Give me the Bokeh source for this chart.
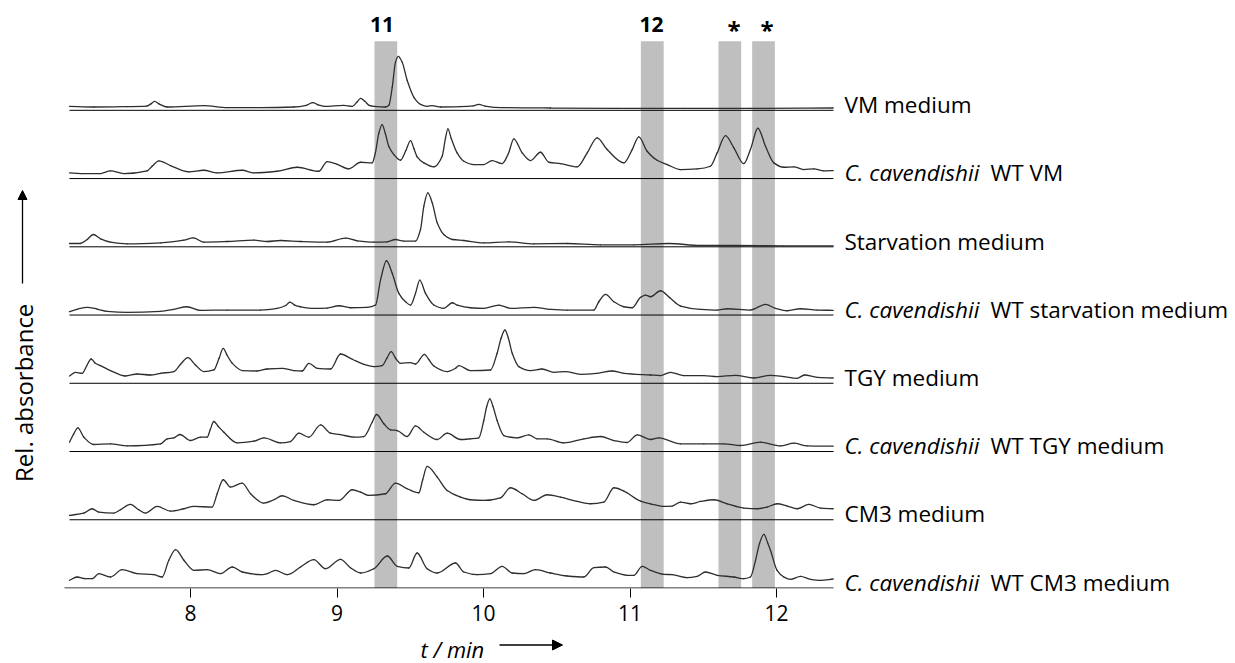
import math
from bokeh.plotting import figure
from bokeh.layouts import column, row
from bokeh.models import Range1d, FixedTicker, Arrow, NormalHead
from bokeh.embed import file_html
from bokeh.resources import INLINE
from bokeh.core.properties import value

# ---------------- data (retention time in min, relative absorbance) ----------------
t_vm = [7.174, 7.341, 7.568, 7.70, 7.730, 7.755, 7.785, 7.841, 8.091, 8.251, 8.478, 8.706, 8.79, 8.835, 8.87, 8.911,
        9.047, 9.104, 9.135, 9.161, 9.19, 9.22, 9.252, 9.331, 9.354, 9.377, 9.399, 9.418, 9.445, 9.479, 9.525, 9.570,
        9.616, 9.650, 9.707, 9.843, 9.93, 9.968, 10.01, 10.071, 10.457, 10.912, 11.367, 11.822, 12.387]
a_vm = [4.0, 3.3, 3.7, 4.2, 6.5, 9.0, 6.5, 3.3, 4.7, 2.7, 2.7, 3.3, 5.0, 7.7, 5.5, 4.0,
        5.0, 4.0, 8.0, 12.0, 9.0, 5.0, 4.0, 3.3, 5.0, 23.0, 48.0, 54.0, 48.0, 30.0, 13.0, 6.0,
        4.0, 4.7, 3.3, 3.7, 4.5, 6.0, 4.2, 3.0, 2.3, 2.0, 2.0, 2.0, 2.3]

t_wt_vm = [7.174, 7.249, 7.386, 7.454, 7.545, 7.704, 7.738, 7.784, 7.863, 7.988, 8.091, 8.182, 8.353, 8.432, 8.592,
           8.728, 8.876, 8.933, 9.001, 9.081, 9.161, 9.240, 9.262, 9.285, 9.308, 9.33, 9.354, 9.388, 9.433, 9.47,
           9.502, 9.525, 9.547, 9.593, 9.661, 9.718, 9.74, 9.757, 9.78, 9.820, 9.866, 9.934, 10.002, 10.059, 10.127,
           10.17, 10.207, 10.264, 10.321, 10.389, 10.446, 10.526, 10.639, 10.708, 10.776, 10.844, 10.958, 11.015,
           11.060, 11.117, 11.185, 11.254, 11.345, 11.459, 11.549, 11.595, 11.652, 11.709, 11.777, 11.822, 11.873,
           11.925, 11.982, 12.050, 12.118, 12.186, 12.255, 12.323, 12.387]
a_wt_vm = [5.7, 5.0, 5.0, 7.7, 5.0, 7.7, 12.3, 17.7, 13.0, 6.7, 8.3, 5.7, 8.3, 5.7, 7.3,
           11.3, 7.3, 17.0, 14.3, 9.7, 16.3, 15.7, 25.7, 45.0, 54.0, 45.0, 32.0, 24.0, 18.3, 28.0,
           38.0, 30.0, 21.7, 15.7, 11.7, 22.3, 40.0, 49.7, 40.0, 25.7, 17.3, 14.0, 14.0, 18.0, 15.0,
           25.0, 39.7, 25.7, 18.0, 26.3, 16.3, 15.0, 11.7, 25.7, 40.7, 29.0, 15.7, 29.0,
           41.7, 27.3, 18.3, 14.0, 9.0, 9.7, 12.3, 25.7, 43.0, 30.7, 15.0, 29.0, 50.3,
           32.3, 15.7, 11.3, 11.7, 9.0, 9.7, 7.7, 8.0]

t_sm = [7.174, 7.249, 7.295, 7.336, 7.386, 7.454, 7.568, 7.796, 7.955, 8.019, 8.091, 8.251, 8.432, 8.523, 8.615,
        8.751, 8.933, 9.058, 9.138, 9.252, 9.343, 9.399, 9.456, 9.536, 9.570, 9.593, 9.620, 9.650, 9.684, 9.729,
        9.787, 9.866, 10.002, 10.173, 10.344, 10.571, 10.799, 11.026, 11.265, 11.481, 11.709, 12.050, 12.387]
a_sm = [3.3, 3.3, 7.3, 12.3, 8.0, 4.7, 3.0, 4.0, 6.7, 9.0, 4.7, 5.3, 6.7, 5.3, 6.3,
        5.3, 4.7, 8.7, 6.0, 4.7, 5.0, 7.3, 5.7, 5.7, 17.3, 40.7, 54.0, 44.0, 24.0, 12.3,
        7.3, 6.3, 4.0, 5.0, 3.0, 3.3, 2.0, 2.0, 3.3, 1.3, 1.3, 1.0, 1.0]

t_wt_sm = [7.174, 7.226, 7.295, 7.363, 7.431, 7.568, 7.796, 7.886, 7.977, 8.068, 8.251, 8.478, 8.592, 8.65, 8.678,
           8.71, 8.751, 8.842, 8.933, 9.013, 9.092, 9.206, 9.263, 9.297, 9.338, 9.377, 9.422, 9.468, 9.502, 9.536,
           9.565, 9.604, 9.661, 9.729, 9.787, 9.820, 9.911, 10.002, 10.105, 10.184, 10.344, 10.457, 10.571, 10.753,
           10.787, 10.833, 10.890, 10.958, 11.015, 11.072, 11.106, 11.140, 11.208, 11.276, 11.345, 11.481, 11.595,
           11.663, 11.822, 11.925, 11.993, 12.073, 12.164, 12.277, 12.387]
a_wt_sm = [3.3, 5.7, 7.7, 6.0, 3.7, 2.7, 3.7, 5.7, 8.3, 4.7, 5.0, 5.0, 6.7, 9.5, 13.0,
           10.0, 8.3, 6.7, 7.0, 9.3, 7.3, 7.7, 10.0, 35.0, 54.3, 41.7, 21.7, 13.3, 10.0, 21.7,
           35.0, 21.7, 10.0, 6.7, 12.3, 10.0, 7.3, 6.7, 10.0, 6.7, 7.7, 5.7, 5.0, 5.0,
           13.3, 20.7, 13.3, 8.3, 7.3, 17.7, 20.0, 18.3, 24.3, 16.7, 9.0, 5.7, 5.0,
           6.3, 5.0, 10.7, 6.7, 4.3, 6.3, 5.0, 4.7]

t_tgy = [7.174, 7.215, 7.260, 7.29, 7.322, 7.35, 7.386, 7.454, 7.556, 7.636, 7.727, 7.796, 7.886, 7.932, 7.982,
         8.034, 8.091, 8.159, 8.195, 8.223, 8.25, 8.285, 8.353, 8.455, 8.523, 8.626, 8.706, 8.762, 8.808, 8.865,
         8.956, 9.024, 9.104, 9.183, 9.252, 9.308, 9.340, 9.370, 9.40, 9.433, 9.502, 9.536, 9.597, 9.625, 9.661,
         9.752, 9.809, 9.832, 9.911, 10.048, 10.093, 10.120, 10.146, 10.170, 10.196, 10.241, 10.321, 10.400,
         10.480, 10.560, 10.662, 10.776, 10.878, 10.958, 11.140, 11.208, 11.276, 11.367, 11.504, 11.595, 11.720,
         11.845, 11.959, 12.050, 12.141, 12.191, 12.277, 12.387]
a_tgy = [7.3, 11.0, 10.0, 17.0, 24.3, 20.0, 17.7, 12.7, 7.3, 9.3, 8.3, 10.0, 11.7, 19.0, 25.7,
         18.3, 11.7, 13.3, 25.0, 35.0, 28.0, 20.0, 12.7, 12.3, 14.3, 15.0, 12.7, 12.3, 20.0, 15.0,
         14.3, 29.3, 24.0, 19.0, 16.7, 17.7, 25.0, 31.7, 25.0, 20.0, 20.7, 19.3, 29.0, 24.0, 17.3,
         11.7, 15.0, 17.7, 12.7, 13.3, 30.0, 45.0, 53.3, 45.0, 30.0, 16.7, 12.7, 14.3,
         11.0, 11.7, 9.0, 10.0, 12.3, 10.0, 8.3, 7.7, 11.0, 7.7, 7.7, 6.7, 8.0,
         5.3, 8.0, 6.7, 5.0, 8.3, 6.0, 5.3]

t_wt_tgy = [7.174, 7.203, 7.231, 7.272, 7.340, 7.454, 7.568, 7.796, 7.841, 7.886, 7.927, 8.000, 8.068, 8.114, 8.135,
            8.159, 8.19, 8.228, 8.318, 8.432, 8.501, 8.615, 8.682, 8.740, 8.808, 8.888, 8.956, 9.024, 9.115, 9.183,
            9.240, 9.270, 9.320, 9.366, 9.411, 9.479, 9.536, 9.593, 9.684, 9.752, 9.843, 9.911, 9.968, 10.002,
            10.022, 10.043, 10.065, 10.093, 10.139, 10.230, 10.309, 10.366, 10.434, 10.548, 10.685, 10.799, 10.890,
            10.981, 11.049, 11.140, 11.197, 11.345, 11.504, 11.641, 11.754, 11.891, 12.027, 12.118, 12.209, 12.387]
a_wt_tgy = [9.3, 17.7, 23.7, 14.3, 7.0, 7.7, 5.7, 7.7, 12.7, 13.7, 17.0, 11.0, 14.3, 14.3, 22.0,
            30.0, 25.0, 19.3, 8.7, 10.3, 13.7, 8.7, 10.0, 18.3, 14.3, 26.7, 18.3, 17.0, 14.3, 15.0,
            29.3, 37.0, 27.7, 21.7, 21.0, 15.0, 25.7, 19.3, 12.0, 18.3, 12.0, 12.7, 13.7, 31.0,
            45.0, 52.7, 45.0, 31.0, 16.0, 13.7, 16.7, 12.7, 12.7, 8.7, 12.7, 15.0, 11.0,
            9.0, 16.7, 12.0, 13.7, 7.7, 7.7, 7.7, 6.0, 9.3, 5.7, 8.3, 5.7, 5.3]

t_cm3 = [7.174, 7.272, 7.329, 7.374, 7.477, 7.522, 7.590, 7.647, 7.693, 7.772, 7.863, 7.955, 8.023, 8.148, 8.182,
         8.223, 8.273, 8.353, 8.410, 8.501, 8.569, 8.626, 8.706, 8.842, 8.933, 9.013, 9.104, 9.161, 9.217, 9.331,
         9.399, 9.479, 9.559, 9.585, 9.615, 9.684, 9.752, 9.843, 9.911, 10.002, 10.116, 10.184, 10.264, 10.344,
         10.434, 10.526, 10.639, 10.730, 10.821, 10.890, 10.958, 11.072, 11.140, 11.231, 11.288, 11.345, 11.413,
         11.481, 11.572, 11.663, 11.777, 11.868, 11.936, 12.004, 12.073, 12.141, 12.221, 12.300, 12.387]
a_cm3 = [4.3, 6.7, 11.0, 7.7, 6.7, 10.0, 15.3, 10.0, 6.7, 13.3, 8.7, 11.0, 13.3, 12.7, 26.0,
         40.0, 32.7, 36.7, 26.0, 16.7, 20.0, 24.0, 19.3, 15.0, 20.0, 19.3, 30.0, 27.7, 24.3, 26.0,
         36.7, 31.0, 27.0, 40.0, 53.3, 42.7, 29.3, 22.7, 20.0, 19.3, 22.0, 32.0, 26.0, 19.3,
         25.0, 22.7, 18.3, 16.0, 17.7, 32.0, 28.7, 18.7, 16.0, 13.3, 13.7, 17.7, 16.0,
         18.3, 20.0, 16.0, 11.7, 11.0, 12.7, 16.0, 13.7, 11.0, 15.3, 11.7, 11.0]

t_wt_cm3 = [7.174, 7.226, 7.283, 7.329, 7.374, 7.454, 7.533, 7.636, 7.750, 7.807, 7.852, 7.898, 7.955, 8.023, 8.114,
            8.205, 8.285, 8.353, 8.478, 8.523, 8.580, 8.660, 8.751, 8.842, 8.922, 9.024, 9.092, 9.161, 9.252, 9.343,
            9.411, 9.490, 9.547, 9.615, 9.684, 9.809, 9.866, 9.957, 10.048, 10.127, 10.196, 10.275, 10.355, 10.457,
            10.571, 10.685, 10.753, 10.833, 10.890, 10.981, 11.026, 11.083, 11.140, 11.231, 11.288, 11.390, 11.459,
            11.515, 11.595, 11.709, 11.777, 11.822, 11.857, 11.885, 11.914, 11.940, 11.959, 12.004, 12.050, 12.096,
            12.164, 12.232, 12.300, 12.387]
a_wt_cm3 = [7.7, 11.0, 9.3, 9.3, 14.3, 11.0, 18.3, 14.3, 13.3, 11.0, 27.7, 38.3, 27.7, 17.7, 18.3,
            14.3, 21.0, 16.0, 13.3, 14.3, 17.7, 13.3, 21.0, 28.3, 19.3, 28.7, 20.3, 15.0, 19.3, 32.0,
            21.7, 20.0, 35.0, 19.3, 15.0, 25.0, 16.0, 13.3, 14.3, 21.7, 15.0, 14.3, 18.3, 15.0,
            12.0, 11.0, 20.3, 21.0, 16.0, 12.7, 12.7, 21.7, 17.7, 13.7, 13.3, 10.3, 11.7,
            16.0, 12.7, 11.0, 9.3, 11.0, 27.7, 45.0, 53.7, 45.0, 37.7, 17.7, 11.0, 8.7,
            11.7, 8.7, 7.7, 9.0]

# traces from top to bottom
trace_t = [t_vm, t_wt_vm, t_sm, t_wt_sm, t_tgy, t_wt_tgy, t_cm3, t_wt_cm3]
trace_a = [a_vm, a_wt_vm, a_sm, a_wt_sm, a_tgy, a_wt_tgy, a_cm3, a_wt_cm3]
label_plain = ["VM medium", "", "Starvation medium", "", "TGY medium", "", "CM3 medium", ""]
label_species = ["", "C. cavendishii", "", "C. cavendishii", "", "C. cavendishii", "", "C. cavendishii"]
label_rest = ["", "WT VM", "", "WT starvation medium", "", "WT TGY medium", "", "WT CM3 medium"]

# highlighted retention windows
band_left = [9.256, 11.074, 11.604, 11.834]
band_right = [9.411, 11.230, 11.759, 11.989]
band_names = ["11", "12", "*", "*"]
band_label_x = [9.307, 11.147, 11.710, 11.935]

x_ticks = [8, 9, 10, 11, 12]
t_start, t_end = 7.174, 12.389
axis_start = 7.14


def pchip_bezier(xs, ys):
    """Bezier control points of a shape-preserving (monotone) cubic through the read points."""
    n = len(xs)
    h = [xs[i + 1] - xs[i] for i in range(n - 1)]
    d = [(ys[i + 1] - ys[i]) / h[i] for i in range(n - 1)]
    m = [0.0] * n
    m[0], m[-1] = d[0], d[-1]
    for i in range(1, n - 1):
        if d[i - 1] * d[i] <= 0:
            m[i] = 0.0
        else:
            w1 = 2 * h[i] + h[i - 1]
            w2 = h[i] + 2 * h[i - 1]
            m[i] = (w1 + w2) / (w1 / d[i - 1] + w2 / d[i])
    seg = dict(x0=[], y0=[], x1=[], y1=[], cx0=[], cy0=[], cx1=[], cy1=[])
    for i in range(n - 1):
        seg["x0"].append(xs[i]); seg["y0"].append(ys[i])
        seg["x1"].append(xs[i + 1]); seg["y1"].append(ys[i + 1])
        seg["cx0"].append(xs[i] + h[i] / 3); seg["cy0"].append(ys[i] + m[i] * h[i] / 3)
        seg["cx1"].append(xs[i + 1] - h[i] / 3); seg["cy1"].append(ys[i + 1] - m[i + 1] * h[i] / 3)
    return seg


# ---------------- layout ----------------
PX_PER_MIN = 146.5
W_TOTAL, H_TOTAL = 1235, 663
W_PLOT = 834                      # plotting area (traces + axis)
H_MAIN = 633                      # plot incl. tick labels
H_SUB = H_TOTAL - H_MAIN          # strip for the axis title
FRAME_H = 588
SPACING = 68.24
x0 = 8 - 190 / PX_PER_MIN
x_split = x0 + W_PLOT / PX_PER_MIN
x1 = x0 + W_TOTAL / PX_PER_MIN
FONT = "Open Sans"
y_lo = -0.5
y_hi = y_lo + FRAME_H


def Y(page_y):
    return y_hi - page_y


def bare(fig):
    fig.outline_line_color = None
    fig.xgrid.visible = False
    fig.ygrid.visible = False
    fig.border_fill_color = "white"
    return fig


p = bare(figure(width=W_PLOT, height=H_MAIN, output_backend="svg", toolbar_location=None, title=None,
                x_range=Range1d(x0, x_split), y_range=Range1d(y_lo, y_hi),
                y_axis_location=None, min_border_left=0, min_border_right=0, min_border_top=0,
                min_border_bottom=H_MAIN - FRAME_H))

p.quad(left=band_left, right=band_right, bottom=0, top=Y(40.7), fill_color="#bfbfbf", line_color=None)

n = len(trace_t)
offsets = [SPACING * (n - 1 - i) for i in range(n)]
for i in range(n):
    off = offsets[i]
    xs0 = t_start if i < n - 1 else axis_start
    p.segment(x0=[xs0], y0=[off], x1=[t_end], y1=[off], line_color="black", line_width=1)
    seg = pchip_bezier(trace_t[i], [off + a for a in trace_a[i]])
    p.bezier(source=seg, x0="x0", y0="y0", x1="x1", y1="y1", cx0="cx0", cy0="cy0", cx1="cx1", cy1="cy1",
             line_color="#2e2e2e", line_width=1.3, line_cap="round")

for name, bx in zip(band_names, band_label_x):
    if name == "*":
        p.text(x=[bx], y=[Y(29.0)], text=[name], text_font=value(FONT), text_font_size="24px",
               text_font_style="bold", text_baseline="middle", text_align="center", text_color="black")
    else:
        p.text(x=[bx], y=[Y(24.2)], text=[name], text_font=value(FONT), text_font_size="21px",
               text_font_style="bold", text_baseline="middle", text_align="center", text_color="black")

# y "axis" title with arrow
p.text(x=[8 + (23.3 - 190) / PX_PER_MIN], y=[Y(392.3)], text=["Rel. absorbance"], angle=math.pi / 2,
       text_font=value(FONT), text_font_size="24px", text_align="center", text_baseline="middle",
       text_color="black")
ax_x = 8 + (22 - 190) / PX_PER_MIN
p.add_layout(Arrow(end=NormalHead(size=9, fill_color="black", line_color="black"),
                   x_start=ax_x, y_start=Y(283), x_end=ax_x, y_end=Y(190), line_width=1.3,
                   line_color="black"))

# x axis
ax = p.xaxis[0]
ax.ticker = FixedTicker(ticks=x_ticks)
ax.axis_line_color = None
ax.major_tick_in = 0
ax.major_tick_out = 9
ax.minor_tick_out = 0
ax.minor_tick_in = 0
ax.major_tick_line_color = "black"
ax.major_label_text_font = FONT
ax.major_label_text_font_size = "21px"
ax.major_label_text_color = "black"
ax.major_label_standoff = 7

# strip below the axis holding the axis title "t / min" and its arrow
q = bare(figure(width=W_PLOT, height=H_SUB, output_backend="svg", toolbar_location=None, title=None,
                x_range=p.x_range, y_range=Range1d(0, H_SUB), x_axis_location=None, y_axis_location=None,
                min_border_left=0, min_border_right=0, min_border_top=0, min_border_bottom=0))


def Yq(page_y):
    return H_TOTAL - page_y


q.text(x=[8 + (420 - 190) / PX_PER_MIN], y=[Yq(648.0)], text=["t / min"], text_font=value(FONT),
       text_font_size="22px", text_font_style="italic", text_baseline="middle", text_align="left",
       text_color="black")
q.add_layout(Arrow(end=NormalHead(size=10, fill_color="black", line_color="black"),
                   x_start=8 + (499 - 190) / PX_PER_MIN, y_start=Yq(644.5),
                   x_end=8 + (562 - 190) / PX_PER_MIN, y_end=Yq(644.5), line_width=1.3, line_color="black"))

# panel on the right holding the sample names (same vertical scale as the traces)
r = bare(figure(width=W_TOTAL - W_PLOT, height=H_TOTAL, output_backend="svg", toolbar_location=None, title=None,
                x_range=Range1d(x_split, x1), y_range=Range1d(y_hi - H_TOTAL, y_hi),
                x_axis_location=None, y_axis_location=None,
                min_border_left=0, min_border_right=0, min_border_top=0, min_border_bottom=0))

lab_x = 8 + (844 - 190) / PX_PER_MIN
rest_x = 8 + (990 - 190) / PX_PER_MIN
common = dict(text_font=value(FONT), text_font_size="22.5px", text_baseline="middle", text_align="left",
              text_color="black")
for i in range(n):
    yc = offsets[i] + 5.8
    if label_plain[i]:
        r.text(x=[lab_x], y=[yc], text=[label_plain[i]], **common)
    else:
        r.text(x=[lab_x], y=[yc], text=[label_species[i]], text_font_style="italic", **common)
        r.text(x=[rest_x], y=[yc], text=[label_rest[i]], **common)

layout = row(column(p, q, spacing=0), r, spacing=0)
open("out.html", "w").write(file_html(layout, INLINE))
